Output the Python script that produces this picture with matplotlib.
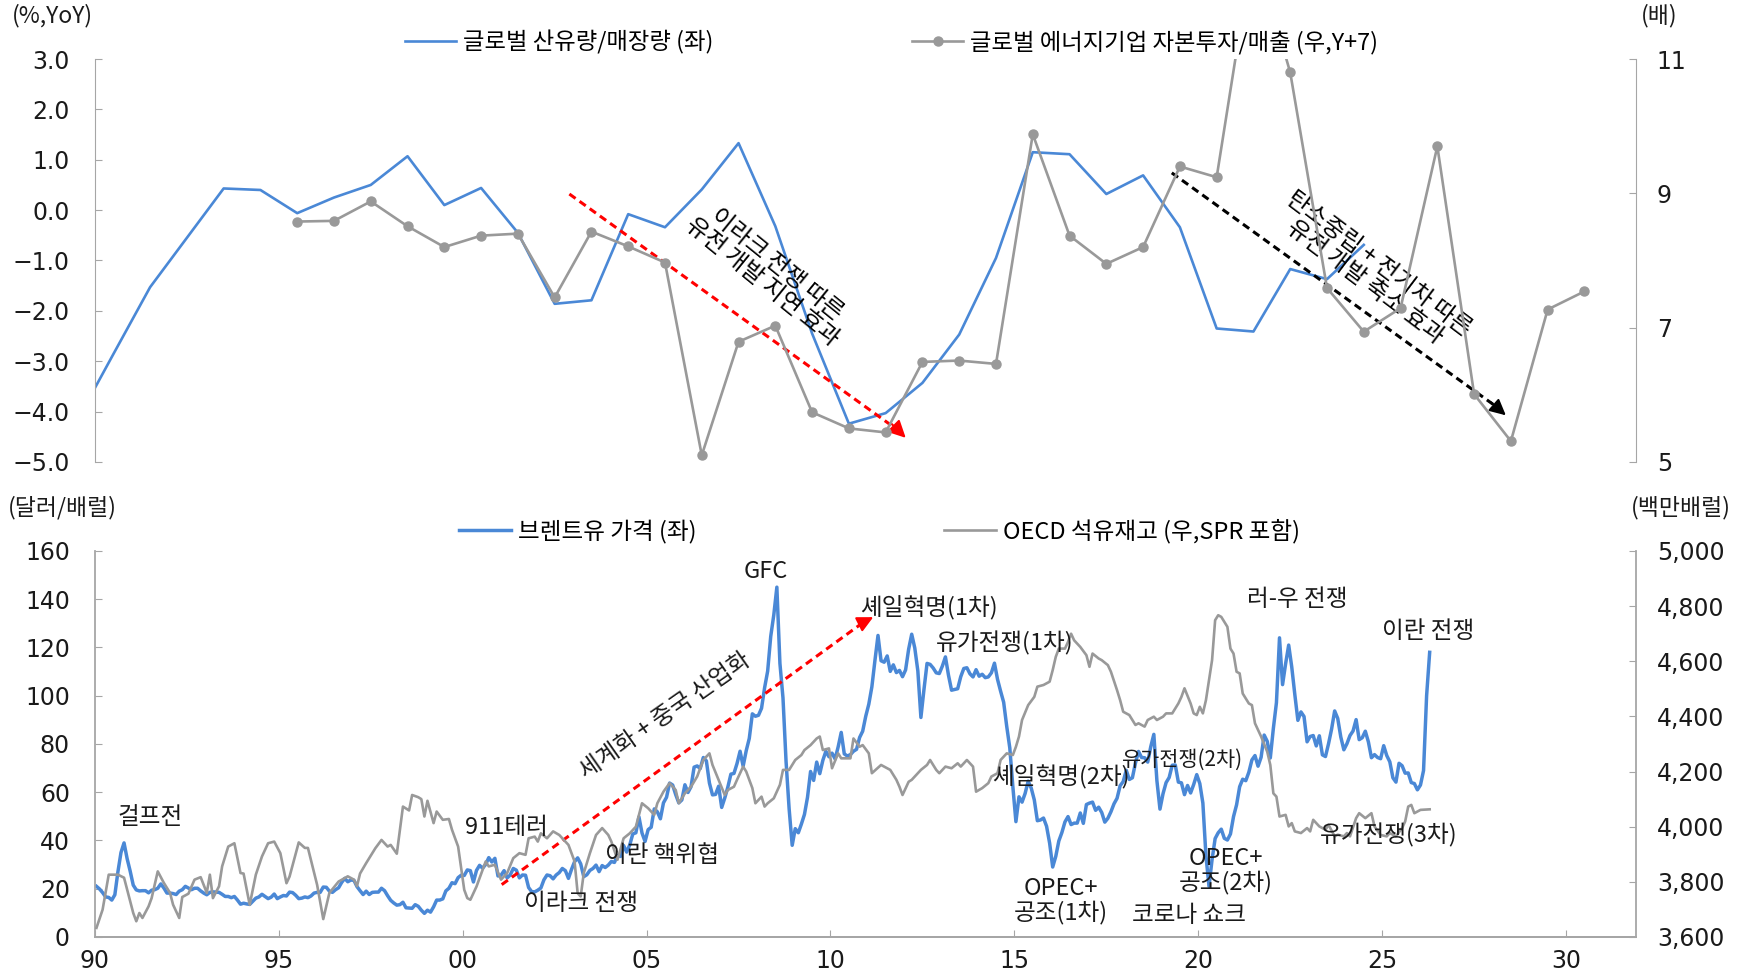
import matplotlib.pyplot as plt
import numpy as np
from matplotlib.lines import Line2D

plt.rcParams['font.family'] = ['Noto Sans CJK KR', 'DejaVu Sans']

# ---------------- top panel data (annual) ----------------
prod_years = list(range(1989, 2025))
prod_reserve_yoy = [-4.20, -2.86, -1.53, -0.55, 0.43, 0.40, -0.06, 0.25, 0.50, 1.07,
                    0.10, 0.44, -0.45, -1.86, -1.79, -0.08, -0.34, 0.41, 1.33, -0.32,
                    -2.45, -4.24, -4.03, -3.43, -2.47, -0.95, 1.15, 1.11, 0.32, 0.69,
                    -0.34, -2.35, -2.41, -1.17, -1.37, -0.69]

capex_years = list(range(1988, 2024))
capex_sales = [8.58, 8.59, 8.88, 8.51, 8.20, 8.37, 8.40, 7.45, 8.43, 8.21,
               7.97, 5.10, 6.79, 7.03, 5.74, 5.50, 5.44, 6.49, 6.51, 6.46,
               9.88, 8.37, 7.95, 8.20, 9.40, 9.24, 12.70, 10.80, 7.59, 6.94,
               7.29, 9.70, 6.01, 5.31, 7.27, 7.54]
capex_lead = 7

# ---------------- bottom panel data (monthly, from Jan 1990) ----------------
brent_1990s = [21.0, 19.9, 18.4, 16.6, 16.4, 15.3, 17.5, 27.0, 35.0, 39.0, 32.5, 27.3,
               21.5, 19.5, 19.1, 19.2, 19.2, 18.3, 19.4, 19.6, 20.2, 22.0, 20.3, 18.2,
               18.2, 18.0, 17.6, 19.0, 19.6, 21.0, 20.3, 19.6, 20.2, 20.2, 19.1, 18.2,
               17.5, 18.5, 18.7, 18.6, 18.5, 17.7, 16.8, 16.8, 16.3, 16.8, 15.3, 13.6,
               14.0, 13.7, 13.5, 14.8, 16.1, 16.6, 17.7, 16.8, 15.9, 16.5, 17.8, 15.9,
               16.6, 17.2, 17.0, 18.6, 18.4, 17.3, 15.9, 16.1, 16.6, 16.3, 17.0, 18.2,
               18.5, 18.5, 20.7, 20.6, 19.0, 18.5, 19.6, 20.4, 22.6, 24.3, 22.9, 23.6,
               23.5, 20.9, 19.2, 17.6, 19.0, 17.6, 18.5, 18.6, 18.6, 20.2, 19.2, 17.1,
               15.2, 14.1, 13.2, 13.4, 14.4, 12.1, 12.0, 11.9, 13.4, 12.7, 11.1, 9.8,
               11.1, 10.3, 12.5, 15.3, 15.3, 15.8, 19.1, 20.2, 22.5, 22.1, 24.6, 25.6]
brent_2000s = [25.5, 27.8, 27.5, 22.8, 27.6, 29.7, 28.5, 30.1, 32.9, 31.1, 32.6, 25.3,
               25.6, 27.5, 24.5, 25.7, 28.4, 27.7, 24.5, 25.7, 25.6, 20.5, 18.8, 18.7,
               19.4, 20.3, 23.7, 25.7, 25.4, 24.1, 25.7, 26.7, 28.4, 27.5, 24.3, 28.0,
               31.2, 32.8, 30.3, 25.0, 25.8, 27.6, 28.4, 29.8, 27.1, 29.6, 28.8, 29.8,
               31.3, 30.9, 33.8, 33.4, 37.9, 35.2, 38.2, 42.7, 43.2, 49.8, 43.1, 39.6,
               44.5, 45.5, 53.1, 51.9, 49.0, 55.6, 57.9, 63.8, 63.0, 59.0, 55.6, 56.8,
               63.1, 59.9, 62.3, 70.4, 70.9, 69.8, 74.4, 73.0, 63.8, 58.9, 59.1, 62.5,
               53.7, 57.6, 62.1, 67.5, 67.8, 71.9, 77.0, 70.8, 77.2, 82.3, 92.5, 91.5,
               91.9, 94.8, 103.3, 110.2, 124.6, 133.5, 145.0, 113.4, 99.1, 72.8, 53.2, 38.0,
               44.9, 43.2, 46.8, 50.8, 57.9, 68.6, 64.9, 72.5, 67.7, 73.2, 77.0, 74.7]
brent_2010s = [76.2, 73.8, 78.8, 84.8, 75.9, 75.0, 75.6, 77.0, 77.8, 82.7, 85.3, 91.5,
               96.5, 103.7, 114.6, 125.0, 114.5, 113.9, 116.5, 110.1, 112.8, 109.6, 110.5, 107.9,
               110.7, 119.3, 125.5, 119.8, 110.3, 91.0, 102.6, 113.4, 113.0, 111.5, 109.5, 109.2,
               112.3, 116.1, 108.5, 102.3, 102.6, 102.9, 107.9, 111.3, 111.6, 109.1, 107.8, 110.8,
               108.1, 108.9, 107.5, 107.8, 109.5, 113.5, 106.8, 101.9, 97.3, 87.3, 78.4, 62.3,
               47.8, 58.1, 55.9, 59.5, 64.6, 61.7, 56.8, 48.2, 48.5, 49.3, 45.9, 38.9,
               29.0, 33.4, 39.8, 43.3, 47.7, 49.9, 46.6, 47.2, 47.2, 51.4, 47.1, 54.9,
               55.5, 55.9, 52.5, 53.8, 51.6, 47.6, 49.2, 51.9, 55.2, 57.5, 62.7, 64.4,
               69.1, 65.3, 66.0, 72.1, 76.9, 74.4, 74.3, 72.5, 78.9, 84.0, 64.8, 53.0,
               59.4, 64.0, 66.1, 71.2, 71.3, 64.2, 63.9, 59.0, 62.8, 59.7, 63.2, 67.3]
brent_2020s = [63.6, 55.5, 33.7, 21.0, 32.1, 40.8, 43.2, 44.7, 40.9, 40.2, 42.7, 49.9,
               54.8, 62.3, 65.4, 64.8, 68.3, 73.4, 75.2, 70.8, 74.5, 83.7, 81.1, 74.2,
               86.5, 97.1, 124.0, 104.6, 113.3, 121.0, 111.9, 100.5, 89.8, 93.3, 91.4, 80.9,
               83.1, 83.5, 79.2, 83.4, 75.5, 74.8, 80.1, 86.2, 93.7, 90.6, 82.9, 77.6,
               80.1, 83.5, 85.4, 90.1, 81.8, 82.6, 85.3, 80.9, 74.3, 75.6, 74.4, 73.9,
               79.3, 75.2, 72.6, 66.0, 64.2, 72.0, 71.0, 67.9, 68.0, 64.0, 63.6, 61.0,
               63.0, 69.0, 100.0, 118.0]

oecd_months = ['1990-01', '1990-03', '1990-05', '1990-08', '1990-10', '1990-11',
               '1991-01', '1991-02', '1991-03', '1991-04', '1991-06', '1991-07', '1991-09', '1991-11',
               '1992-01', '1992-02', '1992-04', '1992-05', '1992-07', '1992-09', '1992-11',
               '1993-01', '1993-02', '1993-03', '1993-05', '1993-06', '1993-08', '1993-10', '1993-12',
               '1994-01', '1994-03', '1994-05', '1994-07', '1994-09', '1994-11',
               '1995-01', '1995-03', '1995-04', '1995-07', '1995-09', '1995-10',
               '1996-01', '1996-03', '1996-05', '1996-08', '1996-11',
               '1997-01', '1997-02', '1997-03', '1997-05', '1997-08', '1997-10', '1997-12',
               '1998-01', '1998-03', '1998-05', '1998-07', '1998-08', '1998-10', '1998-11', '1998-12',
               '1999-01', '1999-03', '1999-04', '1999-06', '1999-08', '1999-09', '1999-11',
               '2000-01', '2000-02', '2000-03', '2000-05', '2000-08', '2000-09', '2000-11',
               '2001-01', '2001-03', '2001-05', '2001-07', '2001-09', '2001-10', '2001-12',
               '2002-01', '2002-02', '2002-04', '2002-06', '2002-08', '2002-10', '2002-11',
               '2003-01', '2003-02', '2003-03', '2003-04', '2003-06', '2003-08', '2003-10', '2003-12',
               '2004-01', '2004-03', '2004-05', '2004-07', '2004-09', '2004-11',
               '2005-01', '2005-03', '2005-04', '2005-06', '2005-08', '2005-10', '2005-11',
               '2006-01', '2006-03', '2006-05', '2006-07', '2006-09', '2006-10', '2006-12',
               '2007-02', '2007-03', '2007-05', '2007-06', '2007-08', '2007-09', '2007-11', '2007-12',
               '2008-02', '2008-03', '2008-04', '2008-06', '2008-08', '2008-09', '2008-11',
               '2009-01', '2009-03', '2009-04', '2009-06', '2009-08', '2009-09', '2009-10', '2009-12',
               '2010-01', '2010-03', '2010-04', '2010-07', '2010-08', '2010-10', '2010-11',
               '2011-01', '2011-02', '2011-05', '2011-06', '2011-08', '2011-10', '2011-11', '2011-12',
               '2012-02', '2012-03', '2012-05', '2012-06', '2012-08', '2012-09', '2012-11', '2012-12',
               '2013-02', '2013-04', '2013-06', '2013-07', '2013-09', '2013-11', '2013-12',
               '2014-02', '2014-04', '2014-05', '2014-07', '2014-08', '2014-10', '2014-12',
               '2015-01', '2015-02', '2015-03', '2015-05', '2015-07', '2015-08', '2015-10', '2015-12',
               '2016-01', '2016-02', '2016-03', '2016-05', '2016-06', '2016-07', '2016-08', '2016-10', '2016-12',
               '2017-01', '2017-02', '2017-04', '2017-05', '2017-07', '2017-08', '2017-10', '2017-11', '2017-12',
               '2018-02', '2018-04', '2018-05', '2018-07', '2018-08', '2018-10', '2018-11',
               '2019-01', '2019-02', '2019-04', '2019-06', '2019-07', '2019-08', '2019-10', '2019-11', '2019-12',
               '2020-01', '2020-02', '2020-03', '2020-05', '2020-06', '2020-07', '2020-08', '2020-10', '2020-11', '2020-12',
               '2021-01', '2021-02', '2021-03', '2021-05', '2021-06', '2021-07', '2021-09', '2021-11', '2021-12',
               '2022-01', '2022-02', '2022-03', '2022-05', '2022-06', '2022-07', '2022-08', '2022-10', '2022-12',
               '2023-01', '2023-02', '2023-04', '2023-06', '2023-07', '2023-09', '2023-10', '2023-12',
               '2024-01', '2024-02', '2024-04', '2024-05', '2024-07', '2024-09', '2024-10', '2024-12',
               '2025-02', '2025-03', '2025-05', '2025-07', '2025-08', '2025-09', '2025-10', '2025-11',
               '2026-01', '2026-04']
oecd_stock = [3633, 3699, 3826, 3826, 3815, 3772,
              3687, 3657, 3687, 3669, 3711, 3741, 3838, 3796,
              3760, 3717, 3669, 3745, 3757, 3808, 3817,
              3760, 3826, 3741, 3784, 3856, 3928, 3940, 3832,
              3830, 3717, 3826, 3892, 3940, 3946,
              3904, 3795, 3819, 3943, 3923, 3923,
              3789, 3665, 3760, 3801, 3820,
              3808, 3784, 3830, 3868, 3922, 3952, 3928,
              3934, 3902, 4073, 4059, 4115, 4107, 4100, 4037,
              4094, 4013, 4055, 4025, 4028, 3989, 3928,
              3771, 3741, 3735, 3783, 3874, 3856, 3862,
              3808, 3832, 3886, 3904, 3898, 3958, 3964,
              3946, 3976, 3958, 3983, 3970, 3946, 3934,
              3874, 3759, 3747, 3832, 3904, 3970, 3995, 3970,
              3946, 3880, 3958, 3976, 4000, 4085,
              4067, 4043, 4085, 4127, 4158, 4133, 4085,
              4121, 4145, 4182, 4242, 4266, 4224, 4170,
              4115, 4133, 4145, 4170, 4218, 4200, 4140, 4085,
              4109, 4073, 4085, 4103, 4152, 4206, 4206,
              4242, 4260, 4278, 4296, 4320, 4327, 4278, 4284,
              4212, 4266, 4248, 4248, 4320, 4290, 4296,
              4266, 4194, 4224, 4218, 4206, 4170, 4145, 4115,
              4163, 4170, 4194, 4206, 4224, 4242, 4206, 4194,
              4218, 4212, 4230, 4218, 4242, 4218, 4127,
              4140, 4158, 4182, 4194, 4242, 4266, 4260,
              4290, 4327, 4387, 4441, 4471, 4508, 4514, 4526,
              4568, 4616, 4646, 4646, 4670, 4700, 4676, 4652, 4622,
              4580, 4628, 4610, 4604, 4586, 4562, 4495, 4459, 4417,
              4405, 4369, 4375, 4363, 4387, 4399, 4387,
              4399, 4411, 4411, 4447, 4471, 4502, 4447, 4411, 4405,
              4435, 4411, 4459, 4604, 4749, 4767, 4761, 4725, 4646, 4628,
              4562, 4556, 4483, 4447, 4441, 4375, 4327, 4272, 4224,
              4121, 4109, 4037, 4043, 4001, 4013, 3983, 3977, 3995,
              3983, 4025, 4001, 3989, 4007, 3965, 3971, 3965,
              3977, 3965, 4031, 4049, 4031, 4049, 4001, 3970,
              3965, 3977, 3965, 3995, 4019, 4073, 4079, 4049,
              4061, 4063]

# ---------------- helpers ----------------
BLUE = '#4a88d6'
GRAY = '#999999'
SPINE = '#a6a6a6'
TXT = '#1a1a1a'
NARROW = 'Liberation Sans Narrow'
X0, X1 = 1990.0, 2031.9

brent = np.array(brent_1990s + brent_2000s + brent_2010s + brent_2020s)
brent_x = 1990 + (np.arange(len(brent)) + 0.5) / 12
oecd_x = [int(m[:4]) + (int(m[5:]) - 0.5) / 12 for m in oecd_months]
prod_x = np.array(prod_years) + 0.5
capex_x = np.array(capex_years) + capex_lead + 0.5

fig = plt.figure(figsize=(17.45, 9.74), dpi=100)
ax1 = fig.add_axes([0.0544, 0.5257, 0.8831, 0.4137])
ax1r = ax1.twinx()
ax2 = fig.add_axes([0.0544, 0.0380, 0.8831, 0.3963])
ax2r = ax2.twinx()

# ---------------- top panel ----------------
ax1.plot(prod_x, prod_reserve_yoy, color=BLUE, lw=1.9)
ax1r.plot(capex_x, capex_sales, color=GRAY, lw=1.9, marker='o', ms=6.5)

ax1.set_xlim(X0, X1)
ax1.set_ylim(-5, 3)
ax1r.set_ylim(5, 11)
ax1.set_yticks(np.arange(-5, 3.1, 1.0),
               labels=[f'{v:.1f}'.replace('-', '\u2212') for v in np.arange(-5, 3.1, 1.0)],
               fontfamily=NARROW, fontsize=17, color=TXT)
ax1r.set_yticks([5, 7, 9, 11], labels=['5', '7', '9', '11'],
                fontfamily=NARROW, fontsize=17, color=TXT)
ax1.set_xticks([])

for a in (ax1, ax1r):
    for s in ('top', 'bottom'):
        a.spines[s].set_visible(False)
    a.spines['left'].set_color(SPINE)
    a.spines['right'].set_color(SPINE)
ax1.spines['right'].set_visible(False)
ax1r.spines['left'].set_visible(False)
ax1.tick_params(axis='y', direction='in', length=5, color=SPINE, pad=18)
ax1r.tick_params(axis='y', direction='in', length=5, color=SPINE, pad=15)

# red dashed arrow + text
ax1.plot([2002.9, 2011.8], [0.32, -4.35], color='red', lw=2.2, ls=(0, (2.5, 1.6)))
ax1.annotate('', xy=(2012.1, -4.56), xytext=(2011.6, -4.2),
             arrowprops=dict(arrowstyle='-|>', color='red', lw=1.5, mutation_scale=26))
ax1.text(2008.35, -1.25, '이라크 전쟁 따른\n유전 개발 지연 효과', rotation=-39,
         rotation_mode='anchor', ha='center', va='center', fontsize=17, color='black',
         linespacing=1.0)

# black dashed arrow + text
ax1.plot([2019.28, 2028.1], [0.74, -3.9], color='black', lw=2.2, ls=(0, (2.5, 1.6)))
ax1.annotate('', xy=(2028.42, -4.11), xytext=(2027.9, -3.78),
             arrowprops=dict(arrowstyle='-|>', color='black', lw=1.5, mutation_scale=24))
ax1.text(2024.72, -1.25, '탄소중립 + 전기차 따른\n유전 개발 축소 효과', rotation=-37,
         rotation_mode='anchor', ha='center', va='center', fontsize=17, color='black',
         linespacing=1.0)

h1 = [Line2D([], [], color=BLUE, lw=1.9),
      Line2D([], [], color=GRAY, lw=1.9, marker='o', ms=6.5)]
fig.legend(h1, ['글로벌 산유량/매장량 (좌)', '글로벌 에너지기업 자본투자/매출 (우,Y+7)'],
           loc='center', bbox_to_anchor=(0.511, 0.957), ncol=2, frameon=False,
           fontsize=16.8, handlelength=2.2, handletextpad=0.3, columnspacing=8.5)

# ---------------- bottom panel ----------------
ax2.plot(brent_x, brent, color=BLUE, lw=2.5)
ax2r.plot(oecd_x, oecd_stock, color=GRAY, lw=1.9)

ax2.set_xlim(X0, X1)
ax2.set_ylim(0, 160)
ax2r.set_ylim(3600, 5000)
xt = np.arange(1990, 2031, 5)
ax2.set_xticks(xt, labels=[f'{y % 100:02d}' for y in xt],
               fontfamily=NARROW, fontsize=17, color=TXT)
ax2.set_yticks(np.arange(0, 161, 20), labels=[str(v) for v in range(0, 161, 20)],
               fontfamily=NARROW, fontsize=17, color=TXT)
rt = np.arange(3600, 5001, 200)
ax2r.set_yticks(rt, labels=[f'{v:,}' for v in rt],
                fontfamily=NARROW, fontsize=17, color=TXT)

for a in (ax2, ax2r):
    a.spines['top'].set_visible(False)
    for s in ('left', 'right', 'bottom'):
        a.spines[s].set_color(SPINE)
        a.spines[s].set_linewidth(1.3)
ax2.spines['right'].set_visible(False)
ax2r.spines['left'].set_visible(False)
ax2.tick_params(axis='y', direction='in', length=5, color=SPINE, pad=18)
ax2.tick_params(axis='x', direction='in', length=5, color=SPINE, pad=9)
ax2r.tick_params(axis='y', direction='in', length=5, color=SPINE, pad=15)

notes = [('걸프전', 1991.5, 49.4, 17), ('911테러', 2001.18, 45.3, 17),
         ('이라크 전쟁', 2003.21, 13.8, 17), ('이란 핵위협', 2005.42, 33.7, 17),
         ('GFC', 2008.24, 151.3, 17), ('셰일혁명(1차)', 2012.68, 136.4, 17),
         ('유가전쟁(1차)', 2014.74, 121.9, 17), ('셰일혁명(2차)', 2016.26, 66.4, 17),
         ('유가전쟁(2차)', 2019.58, 73.5, 15), ('OPEC+\n공조(1차)', 2016.26, 15.1, 17),
         ('코로나 쇼크', 2019.74, 8.9, 17), ('OPEC+\n공조(2차)', 2020.75, 27.5, 17),
         ('러-우 전쟁', 2022.68, 139.7, 17), ('이란 전쟁', 2026.24, 126.8, 17),
         ('유가전쟁(3차)', 2025.18, 42.0, 17)]
for txt, xv, yv, fs in notes:
    ax2r.text(xv, 3600 + yv * 8.75, txt, ha='center', va='center', fontsize=fs,
              color=TXT, linespacing=1.0, zorder=5)

ax2.plot([2001.06, 2010.9], [21.7, 130.5], color='red', lw=2.2, ls=(0, (2.5, 1.6)))
ax2.annotate('', xy=(2011.23, 133.1), xytext=(2010.8, 129.8),
             arrowprops=dict(arrowstyle='-|>', color='red', lw=1.5, mutation_scale=24))
ax2.text(2005.5, 91.7, '세계화 + 중국 산업화', rotation=35, rotation_mode='anchor',
         ha='center', va='center', fontsize=17, color=TXT)

h2 = [Line2D([], [], color=BLUE, lw=2.5), Line2D([], [], color=GRAY, lw=1.9)]
fig.legend(h2, ['브렌트유 가격 (좌)', 'OECD 석유재고 (우,SPR 포함)'],
           loc='center', bbox_to_anchor=(0.504, 0.455), ncol=2, frameon=False,
           fontsize=17, handlelength=2.2, handletextpad=0.3, columnspacing=10.5)

# unit labels
fig.text(0.030, 0.984, '(%,YoY)', ha='center', va='center', fontsize=16.5, color=TXT)
fig.text(0.951, 0.984, '(배)', ha='center', va='center', fontsize=16.5, color=TXT)
fig.text(0.036, 0.479, '(달러/배럴)', ha='center', va='center', fontsize=16.5, color=TXT)
fig.text(0.963, 0.479, '(백만배럴)', ha='center', va='center', fontsize=16.5, color=TXT)

fig.savefig('out.png', dpi=100)
